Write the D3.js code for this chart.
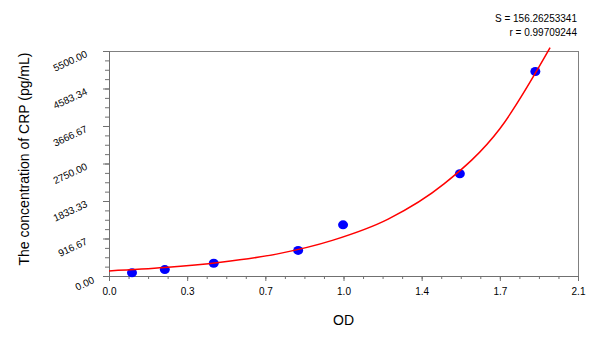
<!DOCTYPE html>
<html lang="en">
<head>
    <meta charset="UTF-8">
    <title>CRP standard curve</title>
    <script src="https://d3js.org/d3.v7.min.js"></script>
    <style>
        body {
            margin: 0;
            background: #ffffff;
            font-family: 'Liberation Sans', Arial, sans-serif;
        }
        #chart svg { display: block; }
        .axis path, .axis line { stroke: #707070; }
        .axis text { fill: #000; font-family: 'Liberation Sans', Arial, sans-serif; }
    </style>
</head>
<body>
    <div id="chart"></div>
    <script>
    // standards (OD vs concentration)
    const odValues = [0.103, 0.250, 0.469, 0.847, 1.048, 1.571, 1.909];
    const concValues = [78.13, 156.25, 312.5, 625, 1250, 2500, 5000];

    // fitted curve
    const curveOD = [0, 0.25, 0.5, 0.75, 1.0, 1.25, 1.5, 1.75, 1.975];
    const curveConc = [125, 205, 335, 535, 870, 1390, 2250, 3600, 5580];

    // tick labels
    const xTickValues = [0, 0.35, 0.7, 1.05, 1.4, 1.75, 2.1];
    const xTickLabels = ["0.0", "0.3", "0.7", "1.0", "1.4", "1.7", "2.1"];
    const yTickValues = [0, 916.67, 1833.33, 2750, 3666.67, 4583.34, 5500];
    const yTickLabels = ["0.00", "916.67", "1833.33", "2750.00", "3666.67", "4583.34", "5500.00"];

    const statLines = ["S = 156.26253341", "r = 0.99709244"];

    const W = 600, H = 337;
    const margin = { top: 51, right: 22, bottom: 61, left: 109 };
    const width = W - margin.left - margin.right;
    const height = H - margin.top - margin.bottom;

    const svg = d3.select("#chart").append("svg")
        .attr("width", W)
        .attr("height", H);

    const g = svg.append("g")
        .attr("transform", `translate(${margin.left},${margin.top})`);

    const x = d3.scaleLinear().domain([0, 2.1]).range([0, width]);
    const y = d3.scaleLinear().domain([0, 5500]).range([height, 0]);

    // frame
    g.append("rect")
        .attr("x", 0.5).attr("y", 0.5)
        .attr("width", width).attr("height", height)
        .attr("fill", "none")
        .attr("stroke", "#808080");

    // minor ticks
    const xMinor = d3.range(0, 2.1 + 1e-9, 0.0875);
    const yMinor = d3.range(0, 5500 + 1e-6, 5500 / 24);

    g.append("g")
        .attr("class", "axis")
        .attr("transform", `translate(0,${height})`)
        .call(d3.axisBottom(x).tickValues(xMinor).tickSize(3).tickFormat(""))
        .call(a => a.select(".domain").remove());

    g.append("g")
        .attr("class", "axis")
        .call(d3.axisLeft(y).tickValues(yMinor).tickSize(4).tickFormat(""))
        .call(a => a.select(".domain").remove());

    // major axes
    const xAxis = g.append("g")
        .attr("class", "axis")
        .attr("transform", `translate(0,${height})`)
        .call(d3.axisBottom(x)
            .tickValues(xTickValues)
            .tickSize(5)
            .tickPadding(7)
            .tickFormat((d, i) => xTickLabels[i]));
    xAxis.selectAll("text").style("font-size", "10px");

    const yAxis = g.append("g")
        .attr("class", "axis")
        .call(d3.axisLeft(y)
            .tickValues(yTickValues)
            .tickSize(6)
            .tickFormat((d, i) => yTickLabels[i]));
    yAxis.selectAll("text")
        .style("font-size", "10px")
        .attr("x", null).attr("dy", null)
        .attr("text-anchor", "end")
        .attr("transform", (d, i) => i === 0 ? "translate(-14,6) rotate(-25)" : "translate(-21,5) rotate(-25)");

    // points
    const pts = odValues.map((d, i) => ({ od: d, conc: concValues[i] }));
    g.selectAll(".pt")
        .data(pts)
        .enter().append("ellipse")
        .attr("class", "pt")
        .attr("cx", d => x(d.od))
        .attr("cy", d => y(d.conc))
        .attr("rx", 5)
        .attr("ry", 4.5)
        .attr("fill", "#0000ff");

    // fitted curve
    const curvePts = curveOD.map((d, i) => [d, curveConc[i]]);
    const line = d3.line()
        .x(d => x(d[0]))
        .y(d => y(d[1]))
        .curve(d3.curveMonotoneX);

    g.append("path")
        .datum(curvePts)
        .attr("fill", "none")
        .attr("stroke", "#ff0000")
        .attr("stroke-width", 1.5)
        .attr("d", line);

    // axis titles
    svg.append("text")
        .attr("x", margin.left + width / 2)
        .attr("y", 325)
        .attr("text-anchor", "middle")
        .style("font-size", "14px")
        .text("OD");

    svg.append("text")
        .attr("transform", `translate(29,${margin.top + 108}) rotate(-90)`)
        .attr("text-anchor", "middle")
        .style("font-size", "14px")
        .text("The concentration of CRP (pg/mL)");

    // fit statistics
    svg.selectAll(".stat")
        .data(statLines)
        .enter().append("text")
        .attr("class", "stat")
        .attr("x", 577)
        .attr("y", (d, i) => 22 + i * 14)
        .attr("text-anchor", "end")
        .style("font-size", "10px")
        .text(d => d);
    </script>
</body>
</html>
